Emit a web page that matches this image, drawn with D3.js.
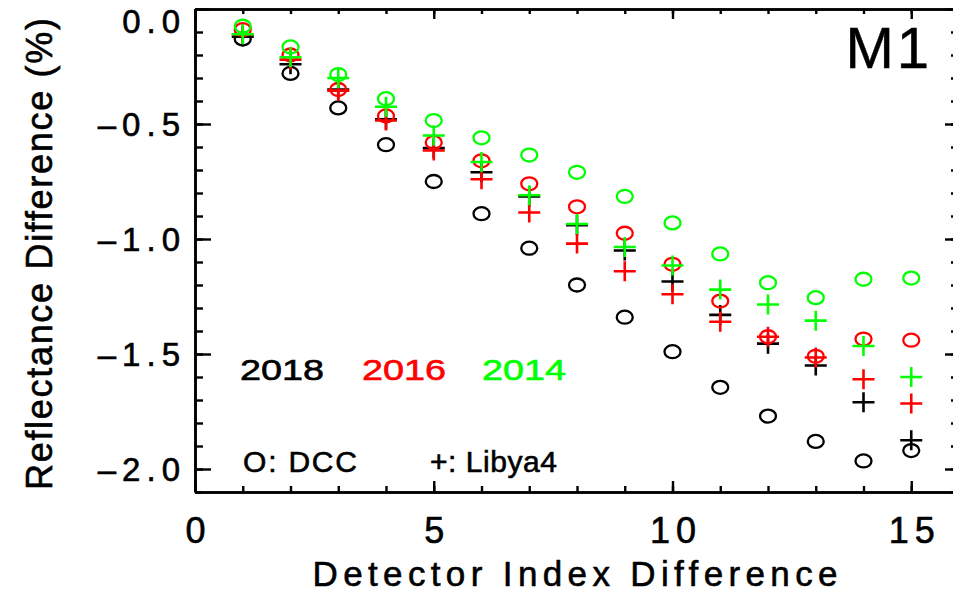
<!DOCTYPE html>
<html>
<head>
<meta charset="utf-8">
<script src="https://cdn.jsdelivr.net/npm/d3@7"></script>
<style>
  body { margin: 0; background: #fff; }
  svg { display: block; font-family: "Liberation Sans", Arial, sans-serif; }
</style>
</head>
<body>
<div id="chart"></div>
<script>
// detector index difference on the x axis
const detectorIndex = [1, 2, 3, 4, 5, 6, 7, 8, 9, 10, 11, 12, 13, 14, 15];

// DCC (circles)
const dcc2018 = [-0.13, -0.28, -0.43, -0.59, -0.75, -0.89, -1.04, -1.20, -1.34, -1.49, -1.645, -1.77, -1.88, -1.965, -1.92];
const dcc2016 = [-0.09, -0.20, -0.35, -0.465, -0.58, -0.66, -0.76, -0.86, -0.975, -1.11, -1.27, -1.425, -1.51, -1.435, -1.44];
const dcc2014 = [-0.075, -0.165, -0.285, -0.39, -0.485, -0.56, -0.635, -0.71, -0.815, -0.93, -1.065, -1.19, -1.255, -1.175, -1.17];

// Libya4 (plus signs)
const libya2018 = [-0.12, -0.24, -0.35, -0.48, -0.605, -0.71, -0.815, -0.94, -1.05, -1.185, -1.33, -1.455, -1.55, -1.71, -1.875];
const libya2016 = [-0.11, -0.22, -0.355, -0.485, -0.615, -0.74, -0.885, -1.02, -1.14, -1.24, -1.36, -1.425, -1.515, -1.61, -1.715];
const libya2014 = [-0.11, -0.21, -0.30, -0.425, -0.55, -0.665, -0.81, -0.935, -1.035, -1.115, -1.22, -1.285, -1.355, -1.465, -1.60];

const years = ["2018", "2016", "2014"];
const yearColors = ["#000000", "#ff0000", "#00ff00"];

const xMajorTicks = [0, 5, 10, 15];
const xMinorTicks = d3.range(0, 17, 1);
const yMajorTicks = [0, -0.5, -1.0, -1.5, -2.0];
const yMinorTicks = d3.range(0, -2.15, -0.1);

const width = 953, height = 594;
const plotL = 195, plotR = 959, plotT = 9, plotB = 492;

const svg = d3.select("#chart").append("svg")
    .attr("width", width)
    .attr("height", height);

const x = d3.scaleLinear().domain([0, 16]).range([plotL, plotR]);
const y = d3.scaleLinear().domain([-2.1, 0]).range([plotB, plotT]);

// IDL style labels use a long dash for the minus sign
const fmtY = d => (d < 0 ? "\u2013" : "") + d3.format(".1f")(Math.abs(d));

// axes: ticks point inward on all four sides
function styleAxis(g) {
    g.select(".domain").attr("stroke", "#000").attr("stroke-width", 2.6);
    g.selectAll(".tick line").attr("stroke", "#000").attr("stroke-width", 2.4);
}

// left
svg.append("g").attr("transform", `translate(${plotL},0)`)
    .call(d3.axisLeft(y).tickValues(yMinorTicks).tickSize(-8).tickSizeOuter(0).tickFormat(""))
    .call(styleAxis);
const yAxisG = svg.append("g").attr("transform", `translate(${plotL},0)`)
    .call(d3.axisLeft(y).tickValues(yMajorTicks).tickSize(-16).tickSizeOuter(0)
        .tickPadding(9).tickFormat(fmtY))
    .call(styleAxis);
yAxisG.selectAll(".tick text")
    .attr("font-size", 33)
    .attr("font-family", "Liberation Sans, Arial, sans-serif")
    .attr("letter-spacing", 6)
    .attr("fill", "#000")
    .attr("stroke", "#000")
    .attr("stroke-width", 0.6)
    .attr("dy", d => d === 0 ? "0.7em" : "0.36em");

// right
svg.append("g").attr("transform", `translate(${plotR},0)`)
    .call(d3.axisRight(y).tickValues(yMinorTicks).tickSize(-8).tickSizeOuter(0).tickFormat(""))
    .call(styleAxis);
svg.append("g").attr("transform", `translate(${plotR},0)`)
    .call(d3.axisRight(y).tickValues(yMajorTicks).tickSize(-14).tickSizeOuter(0).tickFormat(""))
    .call(styleAxis);

// bottom
svg.append("g").attr("transform", `translate(0,${plotB})`)
    .call(d3.axisBottom(x).tickValues(xMinorTicks).tickSize(-6).tickSizeOuter(0).tickFormat(""))
    .call(styleAxis);
const xAxisG = svg.append("g").attr("transform", `translate(0,${plotB})`)
    .call(d3.axisBottom(x).tickValues(xMajorTicks).tickSize(-11).tickSizeOuter(0)
        .tickPadding(25).tickFormat(d3.format("d")))
    .call(styleAxis);
xAxisG.selectAll(".tick text")
    .attr("font-size", 36)
    .attr("font-family", "Liberation Sans, Arial, sans-serif")
    .attr("letter-spacing", 6)
    .attr("dx", 3)
    .attr("fill", "#000")
    .attr("stroke", "#000")
    .attr("stroke-width", 0.6);

// top
svg.append("g").attr("transform", `translate(0,${plotT})`)
    .call(d3.axisTop(x).tickValues(xMinorTicks).tickSize(-5).tickSizeOuter(0).tickFormat(""))
    .call(styleAxis);
svg.append("g").attr("transform", `translate(0,${plotT})`)
    .call(d3.axisTop(x).tickValues(xMajorTicks).tickSize(-10).tickSizeOuter(0).tickFormat(""))
    .call(styleAxis);

// axis titles
svg.append("text")
    .attr("x", 575)
    .attr("y", 586)
    .attr("text-anchor", "middle")
    .attr("font-size", 35)
    .attr("textLength", 525)
    .attr("lengthAdjust", "spacing")
    .attr("fill", "#000")
    .attr("stroke", "#000")
    .attr("stroke-width", 0.6)
    .text("Detector Index Difference");

svg.append("text")
    .attr("transform", "translate(52,254) rotate(-90)")
    .attr("text-anchor", "middle")
    .attr("font-size", 36)
    .attr("textLength", 472)
    .attr("lengthAdjust", "spacing")
    .attr("fill", "#000")
    .attr("stroke", "#000")
    .attr("stroke-width", 0.6)
    .text("Reflectance Difference (%)");

// band label
svg.append("text")
    .attr("x", 932)
    .attr("y", 68)
    .attr("text-anchor", "end")
    .attr("font-size", 58)
    .attr("font-family", "Liberation Sans, Arial, sans-serif")
    .attr("letter-spacing", 3)
    .attr("fill", "#000")
    .attr("stroke", "#000")
    .attr("stroke-width", 0.5)
    .text("M1");

// markers
const dccSeries = [dcc2018, dcc2016, dcc2014];
const libyaSeries = [libya2018, libya2016, libya2014];
const plusW = 11, plusH = 10;

years.forEach((yr, i) => {
    const color = yearColors[i];
    const circ = detectorIndex.map((d, j) => ({ x: d, v: dccSeries[i][j] }));
    const plus = detectorIndex.map((d, j) => ({ x: d, v: libyaSeries[i][j] }));

    svg.append("g")
        .selectAll("ellipse")
        .data(circ)
        .join("ellipse")
        .attr("cx", d => x(d.x))
        .attr("cy", d => y(d.v))
        .attr("rx", 8)
        .attr("ry", 6.5)
        .attr("fill", "none")
        .attr("stroke", color)
        .attr("stroke-width", 2.3);

    svg.append("g")
        .selectAll("path")
        .data(plus)
        .join("path")
        .attr("d", d => {
            const px = x(d.x), py = y(d.v);
            return `M${px - plusW},${py}H${px + plusW}M${px},${py - plusH}V${py + plusH}`;
        })
        .attr("fill", "none")
        .attr("stroke", color)
        .attr("stroke-width", 2.6);
});

// legend text
const legendX = [240, 362, 482];
years.forEach((yr, i) => {
    svg.append("text")
        .attr("x", legendX[i])
        .attr("y", 380)
        .attr("font-size", 30)
        .attr("textLength", 84)
        .attr("lengthAdjust", "spacingAndGlyphs")
        .attr("fill", yearColors[i])
        .attr("stroke", yearColors[i])
        .attr("stroke-width", 0.6)
        .text(yr);
});

svg.append("text")
    .attr("x", 243)
    .attr("y", 472)
    .attr("font-size", 30)
    .attr("textLength", 114)
    .attr("lengthAdjust", "spacing")
    .attr("fill", "#000")
    .attr("stroke", "#000")
    .attr("stroke-width", 0.6)
    .text("O: DCC");

svg.append("text")
    .attr("x", 430)
    .attr("y", 472)
    .attr("font-size", 30)
    .attr("textLength", 127)
    .attr("lengthAdjust", "spacing")
    .attr("fill", "#000")
    .attr("stroke", "#000")
    .attr("stroke-width", 0.6)
    .text("+: Libya4");
</script>
</body>
</html>
